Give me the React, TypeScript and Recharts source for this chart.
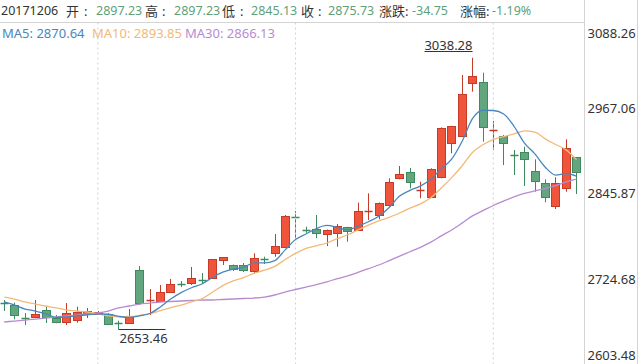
import React from 'react';
import { ComposedChart, Bar, Line, XAxis, YAxis, ReferenceLine } from 'recharts';

const dates = [
  '20170913','20170914','20170915','20170918','20170919','20170920','20170921','20170922','20170925','20170926',
  '20170927','20170928','20170929','20171009','20171010','20171011','20171012','20171013','20171016','20171017',
  '20171018','20171019','20171020','20171023','20171024','20171025','20171026','20171027','20171030','20171031',
  '20171101','20171102','20171103','20171106','20171107','20171108','20171109','20171110','20171113','20171114',
  '20171115','20171116','20171117','20171120','20171121','20171122','20171123','20171124','20171127','20171128',
  '20171129','20171130','20171201','20171204','20171205','20171206',
];

const openV = [
  2691.1, 2687.8, 2669.6, 2670.4, 2680.7, 2669.4, 2663.7, 2666.5, 2675.1, 2674.6,
  2675.1, 2662.3, 2661.9, 2737.4, 2694.2, 2693.9, 2706.7, 2717.6, 2718.6, 2723.2,
  2725.6, 2751.2, 2744.1, 2744.1, 2736.0, 2753.7, 2761.1, 2770.5, 2812.1, 2794.7,
  2795.1, 2788.4, 2790.3, 2797.9, 2794.1, 2819.6, 2815.4, 2829.6, 2867.4, 2876.3,
  2849.4, 2841.3, 2868.8, 2917.0, 2927.8, 3002.1, 3004.3, 2935.3, 2927.8, 2900.0,
  2905.1, 2877.8, 2860.3, 2828.6, 2853.2, 2897.23,
];
const highV = [
  2694.9, 2691.1, 2676.4, 2694.9, 2685.4, 2673.6, 2690.6, 2685.4, 2683.6, 2679.3,
  2676.4, 2665.6, 2682.1, 2743.1, 2710.5, 2716.2, 2724.7, 2721.8, 2741.7, 2733.2,
  2753.0, 2755.9, 2745.2, 2747.3, 2761.1, 2756.3, 2788.5, 2815.4, 2821.1, 2798.8,
  2815.4, 2794.8, 2802.6, 2798.8, 2832.8, 2846.1, 2833.2, 2867.4, 2884.8, 2882.0,
  2862.6, 2881.6, 2939.7, 2941.8, 3013.8, 3038.28, 3017.1, 2948.6, 2928.8, 2907.5,
  2912.2, 2894.3, 2866.0, 2868.8, 2922.7, 2897.23,
];
const lowV = [
  2679.3, 2667.5, 2659.4, 2669.4, 2662.3, 2661.9, 2659.4, 2662.7, 2669.4, 2673.6,
  2660.2, 2653.46, 2661.3, 2687.8, 2673.6, 2693.5, 2704.8, 2713.3, 2716.2, 2717.6,
  2724.7, 2744.5, 2736.0, 2734.6, 2733.2, 2745.9, 2756.3, 2769.6, 2779.9, 2790.3,
  2782.4, 2771.4, 2770.5, 2777.5, 2793.2, 2808.3, 2809.3, 2827.2, 2866.0, 2853.2,
  2839.1, 2840.5, 2867.4, 2902.8, 2926.4, 2990.2, 2919.3, 2907.5, 2886.2, 2872.1,
  2856.5, 2848.4, 2833.4, 2823.9, 2848.4, 2845.13,
];
const closeV = [
  2688.8, 2673.6, 2668.2, 2675.1, 2670.4, 2663.7, 2676.4, 2678.3, 2679.7, 2678.3,
  2660.9, 2661.4, 2670.4, 2691.1, 2695.2, 2706.7, 2717.6, 2716.2, 2725.6, 2721.8,
  2752.6, 2755.4, 2738.4, 2737.4, 2754.0, 2752.6, 2771.4, 2813.9, 2811.1, 2793.7,
  2790.3, 2794.1, 2799.8, 2793.2, 2821.5, 2820.6, 2832.8, 2862.6, 2873.5, 2862.6,
  2850.4, 2880.2, 2938.3, 2941.5, 2986.9, 3012.4, 2940.6, 2936.3, 2917.0, 2899.0,
  2894.3, 2864.0, 2841.3, 2861.1, 2910.48, 2875.73,
];
const ma5V = [
  2692.1, 2687.8, 2682.1, 2679.3, 2675.2, 2670.2, 2670.8, 2672.8, 2673.7, 2675.3,
  2674.7, 2671.7, 2670.1, 2672.4, 2675.8, 2685.0, 2696.2, 2705.4, 2712.3, 2717.6,
  2726.8, 2734.3, 2738.8, 2741.1, 2747.6, 2747.6, 2750.8, 2765.9, 2780.6, 2788.5,
  2796.1, 2800.6, 2797.8, 2794.2, 2799.8, 2805.8, 2813.6, 2826.1, 2842.2, 2850.4,
  2856.4, 2865.9, 2881.0, 2894.6, 2919.5, 2951.9, 2963.9, 2963.5, 2958.6, 2941.1,
  2917.4, 2902.1, 2883.1, 2871.9, 2874.2, 2870.64,
];
const ma10V = [
  2699.1, 2696.3, 2692.1, 2689.2, 2686.4, 2683.6, 2680.7, 2679.3, 2677.9, 2675.3,
  2672.5, 2671.2, 2671.5, 2673.1, 2675.5, 2679.8, 2684.0, 2687.8, 2692.3, 2696.7,
  2705.9, 2715.3, 2722.1, 2726.7, 2732.6, 2737.2, 2742.5, 2752.3, 2760.9, 2768.1,
  2771.8, 2775.7, 2781.8, 2787.4, 2794.2, 2801.0, 2807.1, 2812.0, 2818.2, 2825.1,
  2831.1, 2839.7, 2853.6, 2868.4, 2884.9, 2904.1, 2914.9, 2922.3, 2926.6, 2930.3,
  2934.7, 2933.0, 2923.3, 2915.3, 2907.7, 2893.85,
];
const ma30V = [
  2663.7, 2665.1, 2666.5, 2667.9, 2669.4, 2670.8, 2672.2, 2673.6, 2675.1, 2676.5,
  2679.3, 2683.6, 2686.4, 2689.2, 2690.6, 2692.1, 2692.8, 2693.5, 2694.2, 2694.9,
  2694.9, 2695.6, 2696.3, 2697.0, 2697.7, 2699.1, 2702.0, 2706.2, 2709.8, 2713.3,
  2716.7, 2720.7, 2725.1, 2729.1, 2734.1, 2739.3, 2744.5, 2750.7, 2757.1, 2763.3,
  2769.6, 2776.9, 2785.8, 2794.2, 2803.9, 2814.1, 2821.5, 2828.9, 2835.2, 2841.1,
  2845.9, 2849.5, 2852.9, 2857.0, 2862.3, 2866.13,
];

const yTicks = [2603.48, 2724.68, 2845.87, 2967.06, 3088.26];
const gridDates = ['20170926', '20171030', '20171124'];

const data = dates.map((d, i) => ({
  date: d,
  open: openV[i],
  high: highV[i],
  low: lowV[i],
  close: closeV[i],
  range: [lowV[i], highV[i]],
  ma5: ma5V[i],
  ma10: ma10V[i],
  ma30: ma30V[i],
}));

const maxHigh = Math.max(...highV);
const minLow = Math.min(...lowV);
const maxDate = dates[highV.indexOf(maxHigh)];
const minDate = dates[lowV.indexOf(minLow)];

const FONT = "'Noto Sans', 'Noto Sans CJK SC', sans-serif";
const UP_FILL = '#f0553c';
const UP_STROKE = '#c43b27';
const DN_FILL = '#62a67f';
const DN_STROKE = '#3c8a5e';
const C_MA5 = '#4a86bd';
const C_MA10 = '#f2b979';
const C_MA30 = '#b78cd0';
const C_VAL = '#5f9f7a';

const Candle = (props: any) => {
  const { x, y, width, height, payload } = props;
  if (!payload) return null;
  const top = Math.min(y, y + height);
  const bot = Math.max(y, y + height);
  const { open, high, low, close } = payload;
  const span = high - low;
  const py = (v: number) => (span === 0 ? top : top + ((high - v) / span) * (bot - top));
  const cx = Math.round(x + width / 2) + 0.5;
  const up = close > open;
  const fill = up ? UP_FILL : DN_FILL;
  const stroke = up ? UP_STROKE : DN_STROKE;
  const yo = py(open);
  const yc = py(close);
  const bTop = Math.round(Math.min(yo, yc)) + 0.5;
  const bBot = Math.round(Math.max(yo, yc)) + 0.5;
  const els: any[] = [];
  els.push(<line key="w" x1={cx} x2={cx} y1={top} y2={bot} stroke={stroke} strokeWidth={1} />);
  if (bBot - bTop < 1.5) {
    els.push(<line key="d" x1={cx - 4} x2={cx + 4} y1={bTop} y2={bTop} stroke={stroke} strokeWidth={1.5} />);
  } else {
    els.push(<rect key="b" x={cx - 4} y={bTop} width={8} height={bBot - bTop} fill={fill} stroke={stroke} strokeWidth={1} />);
  }
  if (payload.date === maxDate) {
    const ly = Math.round(top) - 6.5;
    els.push(<line key="hl" x1={cx - 48} x2={cx} y1={ly} y2={ly} stroke="#333" strokeWidth={1} />);
    els.push(
      <text key="ht" x={cx} y={ly - 1.5} textAnchor="end" fontSize={13} fontFamily={FONT} fill="#333">
        {high.toFixed(2)}
      </text>
    );
  }
  if (payload.date === minDate) {
    const ly = Math.round(bot) + 0.5;
    els.push(<line key="ll" x1={cx} x2={cx + 47} y1={ly} y2={ly} stroke="#333" strokeWidth={1} />);
    els.push(
      <text key="lt" x={cx + 1} y={ly + 13.5} textAnchor="start" fontSize={13} fontFamily={FONT} fill="#333">
        {low.toFixed(2)}
      </text>
    );
  }
  return <g>{els}</g>;
};

const AxisTick = (props: any) => {
  const { y, payload } = props;
  const v = payload.value;
  let cy = y;
  if (v === yTicks[yTicks.length - 1]) cy = y + 10.5;
  else if (v === yTicks[0]) cy = y - 9.5;
  return (
    <text x={588.5} y={cy + 4.6} fill="#333" fontSize={13} fontFamily={FONT} textAnchor="start">
      {Number(v).toFixed(2)}
    </text>
  );
};

const last = data[data.length - 1];
const prev = data[data.length - 2];
const chg = last.close - prev.close;
const pct = (chg / prev.close) * 100;

const header: { label: string; value: string; x: number; cx: number; vx: number }[] = [
  { label: '开', value: last.open.toFixed(2), x: 66, cx: 84, vx: 96 },
  { label: '高', value: last.high.toFixed(2), x: 145, cx: 162, vx: 174 },
  { label: '低', value: last.low.toFixed(2), x: 222, cx: 240, vx: 251 },
  { label: '收', value: last.close.toFixed(2), x: 301, cx: 318, vx: 328 },
  { label: '涨跌', value: chg.toFixed(2), x: 379, cx: 405, vx: 412 },
  { label: '涨幅', value: pct.toFixed(2) + '%', x: 460, cx: 486, vx: 492 },
];

const maLegend = [
  { text: 'MA5: ' + last.ma5.toFixed(2), color: C_MA5, x: 2 },
  { text: 'MA10: ' + last.ma10.toFixed(2), color: C_MA10, x: 92 },
  { text: 'MA30: ' + last.ma30.toFixed(2), color: C_MA30, x: 185 },
];

const txt = (top: number, left: number, color: string, content: string, key: string, size = 13) => (
  <div
    key={key}
    style={{
      position: 'absolute',
      top,
      left,
      height: 22,
      lineHeight: '22px',
      fontSize: size,
      fontFamily: FONT,
      color,
      whiteSpace: 'nowrap',
    }}
  >
    {content}
  </div>
);

export default function App() {
  return (
    <div style={{ position: 'absolute', left: 0, top: 0, width: 640, height: 364, overflow: 'hidden', background: '#fff' }}>
      <div style={{ position: 'absolute', left: -1, top: 0 }}>
        <ComposedChart width={641} height={365} data={data} margin={{ top: 22.5, right: 0, bottom: 0.5, left: 0 }}>
          <XAxis dataKey="date" hide />
          <YAxis
            orientation="right"
            width={58.3}
            type="number"
            domain={[yTicks[0], yTicks[yTicks.length - 1]]}
            ticks={yTicks}
            interval={0}
            allowDataOverflow
            axisLine={false}
            tickLine={false}
            tick={<AxisTick />}
          />
          {gridDates.map((d) => (
            <ReferenceLine key={d} x={d} stroke="#d0d0d0" strokeDasharray="2 3" />
          ))}
          <Bar dataKey="range" barSize={8} isAnimationActive={false} shape={<Candle />} />
          <Line type="monotone" dataKey="ma30" stroke={C_MA30} strokeWidth={1.3} dot={false} activeDot={false} isAnimationActive={false} />
          <Line type="monotone" dataKey="ma10" stroke={C_MA10} strokeWidth={1.3} dot={false} activeDot={false} isAnimationActive={false} />
          <Line type="monotone" dataKey="ma5" stroke={C_MA5} strokeWidth={1.3} dot={false} activeDot={false} isAnimationActive={false} />
        </ComposedChart>
      </div>
      <div style={{ position: 'absolute', left: 0, top: 22, width: 585, height: 1, background: '#d4d4d4' }} />
      <div style={{ position: 'absolute', left: 584, top: 0, width: 1, height: 364, background: '#d4d4d4' }} />
      <div style={{ position: 'absolute', left: 637, top: 0, width: 1, height: 364, background: '#d4d4d4' }} />
      {txt(0, 1, '#333', last.date, 'date', 12.5)}
      {header.map((h, i) => [
        txt(0, h.x, '#333', h.label, 'l' + i),
        txt(0, h.cx, '#333', ':', 'c' + i),
        txt(0, h.vx, C_VAL, h.value, 'v' + i, 12.5),
      ])}
      {maLegend.map((m, i) => txt(22, m.x, m.color, m.text, 'm' + i))}
    </div>
  );
}
